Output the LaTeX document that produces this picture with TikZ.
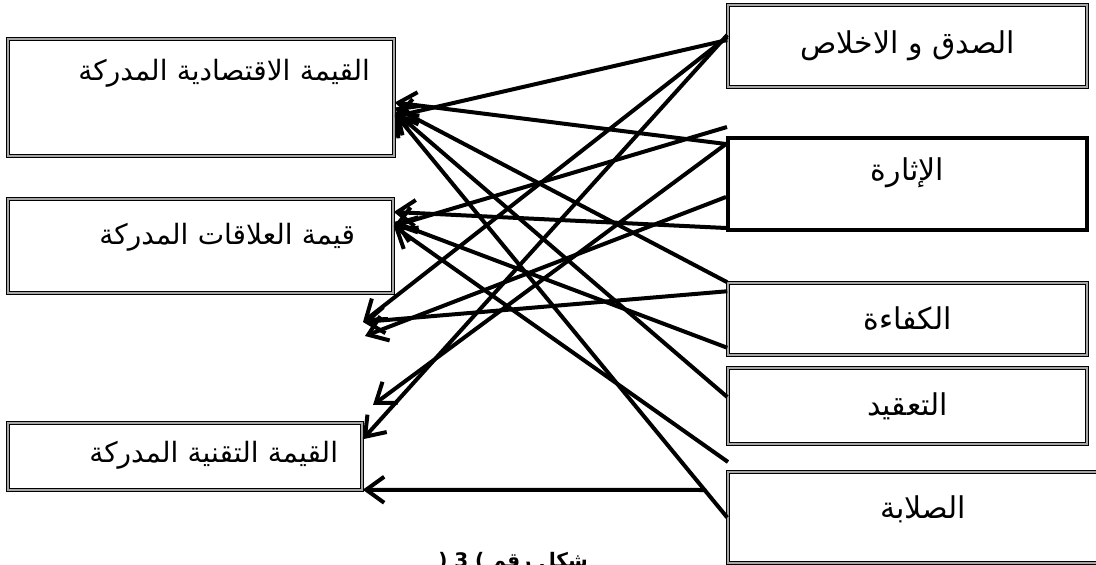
\documentclass[tikz,border=0pt]{standalone}
\usepackage{fontspec}
\newfontfamily\arabicfont[Script=Arabic]{DejaVu Sans}
\TeXXeTstate=1
\usetikzlibrary{arrows.meta}

\begin{document}
\begin{tikzpicture}[
  x=1pt, y=-1pt,
  frame/.style={rectangle, draw, inner ysep=0pt, font=\arabicfont\fontsize{28}{32}\selectfont},
  dbl/.style={line width=1.5pt, double=gray!70, double distance=1.5pt},
  valbox/.style={frame, dbl, align=right},
  factor/.style={frame, minimum width=359pt, inner xsep=0pt, font=\arabicfont\fontsize{30}{34}\selectfont},
  link/.style={-{Straight Barb[length=18pt,width=26pt]}, line width=4pt}
]
\useasboundingbox (0,0) rectangle (1096,565);

% perceived values (left)
\node[valbox, text width=338pt, inner xsep=24pt, text height=41pt, text depth=76pt] (econ) at (201,97.5) {\beginR القيمة الاقتصادية المدركة\endR};
\node[valbox, text width=309pt, inner xsep=38pt, text height=45pt, text depth=49pt] (rel) at (200.5,246) {\beginR قيمة العلاقات المدركة\endR};
\node[valbox, text width=306pt, inner xsep=24pt, text height=39pt, text depth=28pt] (tech) at (185,456.5) {\beginR القيمة التقنية المدركة\endR};

% brand traits (right)
\node[factor, dbl, minimum height=82pt] (hon) at (907.5,46) {\beginR الصدق و الاخلاص\endR};
\node[factor, line width=4pt, text height=42pt, text depth=50pt] (exc) at (907.5,184) {\beginR الإثارة\endR};
\node[factor, dbl, minimum height=72pt] (comp) at (907.5,319) {\beginR الكفاءة\endR};
\node[factor, dbl, minimum height=76pt] (cplx) at (907.5,406) {\beginR التعقيد\endR};
\node[factor, dbl, minimum width=390pt, text height=46pt, text depth=45pt] (rug) at (923,517.5) {\beginR الصلابة\endR\hspace{30pt}};

\node[font=\arabicfont\bfseries\fontsize{20}{24}\selectfont, anchor=base] (caption) at (513,567) {( 3 ) \beginR شكل رقم\endR};

% loose ends
\coordinate (tipC) at (363,322);
\coordinate (tipCb) at (365,336);
\coordinate (tipD) at (373,405);
\coordinate (endA) at (727,127);
\coordinate (endB) at (728,462);
\coordinate (endC) at (706,490);

\draw[link] ([yshift=6pt]hon.west) -- ([yshift=-19pt]econ.east);
\draw[link] ([yshift=9pt]hon.west) -- (tipC);
\draw[link] ([yshift=11pt]hon.west) -- ([yshift=-17pt]tech.north east);
\draw[link] ([yshift=-8pt]exc.north west) -- ([yshift=-5pt]econ.east);
\draw[link] ([yshift=-8pt]exc.north west) -- (tipD);
\draw[link] ([yshift=-13pt]exc.west) -- (tipCb);
\draw[link] ([yshift=4pt]exc.south west) -- ([yshift=34pt]rel.east);
\draw[link] (endA) -- ([yshift=20pt]rel.east);
\draw[link] (comp.north west) -- ([yshift=-10pt]econ.east);
\draw[link] ([yshift=-9pt]comp.north west) -- (tipC);
\draw[link] ([yshift=8pt]comp.south west) -- ([yshift=24pt]rel.east);
\draw[link] ([yshift=9pt]cplx.west) -- ([yshift=-14pt]econ.east);
\draw[link] (endB) -- ([yshift=20pt]rel.east);
\draw[link] (rug.west) -- ([yshift=-16pt]econ.east);
\draw[link] (endC) -- ([yshift=1pt]tech.south east);
\end{tikzpicture}
\end{document}
